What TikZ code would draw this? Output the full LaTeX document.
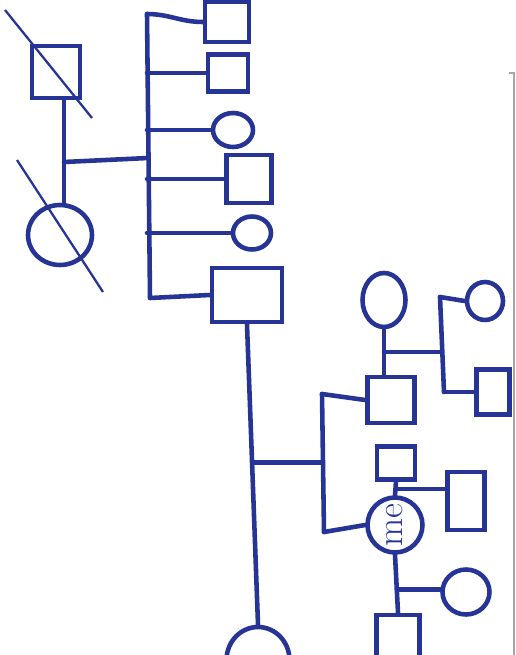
\documentclass[tikz,border=0pt]{standalone}
\usepackage{tikz}
\usetikzlibrary{positioning,shapes.geometric,calc}
\definecolor{ink}{RGB}{38,52,150}

\begin{document}
\begin{tikzpicture}[x=0.02cm, y=-0.02cm, line width=2.6pt, draw=ink,
    male/.style={draw=ink, rectangle, inner sep=0pt},
    female/.style={draw=ink, ellipse, inner sep=0pt},
    kin/.style={draw=ink, line cap=round, line join=round},
    gone/.style={draw=ink, line width=1.3pt},
    paper/.style={draw=black!35, line width=0.8pt}]
        \clip (0,0) rectangle (516,655);
        % grandparents
        \node[male, minimum width=0.96cm, minimum height=1.04cm] (gf) at (56,72) {};
        \node[female, minimum width=1.28cm, minimum height=1.2cm] (gm) at (60,235) {};
        \coordinate (gfs1) at (5,10);   \coordinate (gfs2) at (92,118);
        \coordinate (gms1) at (17,160); \coordinate (gms2) at (103,292);
        \draw[gone] (gfs1) -- (gfs2);
        \draw[gone] (gms1) -- (gms2);
        \coordinate (gfm) at (64,162);
        \draw[kin] (gf.south -| gfm) -- (gm.north -| gfm);
        % father's siblings
        \coordinate (sibtop) at (147,14);
        \coordinate (sibbot) at (150,298);
        \coordinate (sibmid) at (148,158);
        \node[male, minimum width=0.88cm, minimum height=0.8cm] (c1) at (227,22) {};
        \node[male, minimum width=0.8cm, minimum height=0.74cm] (c2) at (228,73) {};
        \node[female, minimum width=0.8cm, minimum height=0.68cm] (c3) at (233,130) {};
        \node[male, minimum width=0.9cm, minimum height=0.96cm] (c4) at (249,179) {};
        \node[female, minimum width=0.76cm, minimum height=0.66cm] (c5) at (252,233) {};
        \node[male, minimum width=1.4cm, minimum height=1.08cm] (dad) at (247,295) {};
        \draw[kin] (gfm) -- (sibmid);
        \draw[kin] (sibtop) -- (sibbot);
        \draw[kin] (sibtop) to[out=0, in=180] (c1.west);
        \draw[kin] (c2.west -| sibtop) -- (c2.west);
        \draw[kin] (c3.west -| sibtop) -- (c3.west);
        \draw[kin] (c4.west -| sibtop) -- (c4.west);
        \draw[kin] (c5.west -| sibtop) -- (c5.west);
        \draw[kin] (sibbot) -- (dad.west);
        % parents
        \node[female, minimum width=1.26cm, minimum height=1.32cm] (mom) at (258,660) {};
        \draw[kin] (dad.south) -- (mom.north);
        \coordinate (pm) at ($(dad.south)!0.46!(mom.north)$);
        \coordinate (s2top) at (322,394);
        \coordinate (s2bot) at (324,532);
        \draw[kin] (pm) -- (pm -| s2top);
        \draw[kin] (s2top) -- (s2bot);
        % brother and his family
        \node[male, minimum width=0.94cm, minimum height=0.92cm] (bro) at (391,400) {};
        \node[female, minimum width=0.86cm, minimum height=1.08cm] (sil) at (384,300) {};
        \draw[kin] (s2top) -- (bro.west);
        \draw[kin] (sil.south) -- (sil.south |- bro.north);
        \coordinate (bm) at ($(sil.south)!0.5!(sil.south |- bro.north)$);
        \coordinate (nbtop) at (440,297);
        \coordinate (nbbot) at (444,392);
        \node[female, minimum width=0.72cm, minimum height=0.76cm] (nc1) at (485,301) {};
        \node[male, minimum width=0.66cm, minimum height=0.9cm] (nc2) at (493,392) {};
        \draw[kin] (bm) -- (bm -| nbtop);
        \draw[kin] (nbtop) -- (nbbot);
        \draw[kin] (nbtop) -- (nc1.west);
        \draw[kin] (nbbot) -- (nc2.west);
        % me and my family
        \node[draw=ink, circle, inner sep=0pt, minimum size=1.1cm, text=ink,
              font=\huge] (me) at (395,525) {\rotatebox{90}{me}};
        \draw[kin] (s2bot) -- (me.west);
        \node[male, minimum width=0.76cm, minimum height=0.66cm] (mep) at (396,463) {};
        \node[male, minimum width=0.74cm, minimum height=1.16cm] (mc1) at (466,501) {};
        \node[female, minimum width=0.94cm, minimum height=0.9cm] (mc2) at (466,592) {};
        \node[male, minimum width=0.86cm, minimum height=0.88cm] (mep2) at (398,637) {};
        \draw[kin] (mep.south) -- (me.north);
        \coordinate (mm) at ($(mep.south)!0.55!(me.north)$);
        \draw[kin] (mm) -- (mm -| mc1.west);
        \draw[kin] (me.south) -- (mep2.north);
        \coordinate (mm2) at ($(me.south)!0.6!(mep2.north)$);
        \draw[kin] (mm2) -- (mm2 -| mc2.west);
        % edge of the sheet
        \draw[paper] (509,73) -- (514,73) -- (514,655);
      \end{tikzpicture}
\end{document}
